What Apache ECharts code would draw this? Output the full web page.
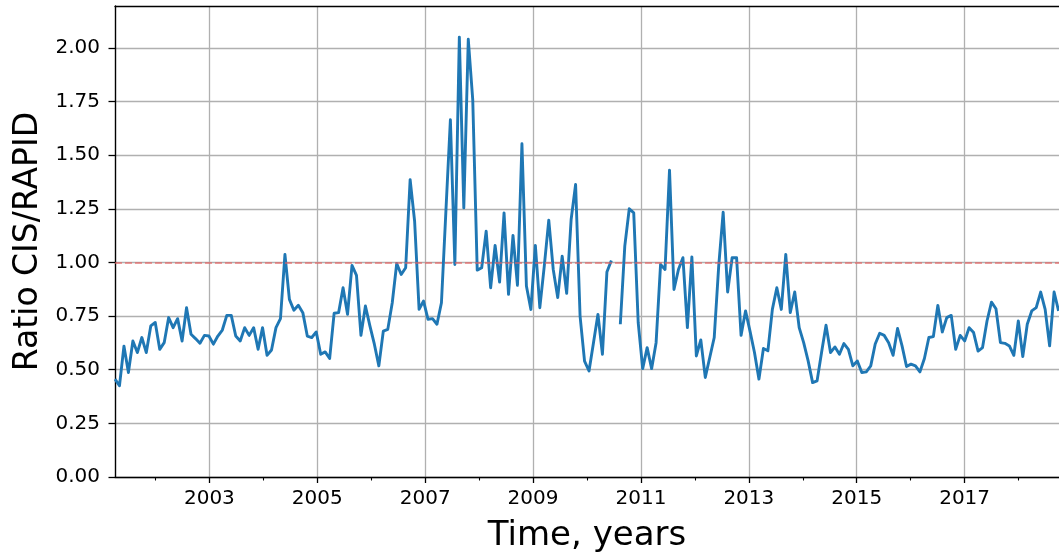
<!DOCTYPE html>
<html><head><meta charset="utf-8">
<script src="https://cdn.jsdelivr.net/npm/echarts@6/dist/echarts.min.js"></script>
<style>html,body{margin:0;padding:0;background:#fff;} #c{width:1059px;height:558px;}</style>
</head><body><div id="c"></div>
<script>
// ---- data ----
const startYear = 2001.25;      // time of first sample (decimal years)
const stepYears = 0.0829;       // sample spacing (about one month)
const ratioValues = [
  0.456,0.425,0.61,0.487,0.634,0.58,0.65,0.58,0.704,0.72,
  0.595,0.626,0.743,0.696,0.738,0.634,0.789,0.665,0.645,0.623,
  0.66,0.657,0.619,0.657,0.685,0.753,0.753,0.657,0.634,0.696,
  0.66,0.696,0.595,0.696,0.567,0.592,0.696,0.738,1.037,0.828,
  0.777,0.80,0.766,0.657,0.65,0.676,0.572,0.583,0.552,0.763,
  0.766,0.882,0.758,0.986,0.94,0.66,0.797,0.704,0.619,0.518,
  0.68,0.688,0.812,0.995,0.944,0.975,1.386,1.192,0.781,0.82,
  0.735,0.738,0.712,0.812,1.24,1.665,0.99,2.05,1.254,2.04,
  1.758,0.964,0.975,1.146,0.882,1.079,0.908,1.231,0.851,1.126,
  0.893,1.553,0.89,0.781,1.079,0.789,0.984,1.197,0.967,0.836,
  1.029,0.856,1.2,1.363,0.75,0.54,0.494,0.626,0.758,0.572,
  0.955,1.009,null,0.712,1.076,1.25,1.231,0.719,0.505,0.603,
  0.505,0.626,0.991,0.967,1.43,0.874,0.967,1.022,0.696,1.026,
  0.564,0.639,0.464,0.557,0.65,0.983,1.234,0.862,1.022,1.022,
  0.66,0.774,0.68,0.58,0.456,0.599,0.588,0.781,0.882,0.781,
  1.037,0.766,0.862,0.696,0.626,0.541,0.44,0.448,0.58,0.707,
  0.58,0.606,0.572,0.622,0.595,0.518,0.541,0.487,0.49,0.518,
  0.62,0.67,0.66,0.626,0.567,0.692,0.611,0.515,0.526,0.518,
  0.49,0.552,0.65,0.654,0.8,0.676,0.743,0.753,0.595,0.66,
  0.634,0.696,0.673,0.587,0.603,0.727,0.815,0.784,0.626,0.623,
  0.611,0.567,0.727,0.561,0.712,0.774,0.789,0.862,0.781,0.611,
  0.862,0.774
];
const majorYears = [2003,2005,2007,2009,2011,2013,2015,2017];
const minorYears = [2002,2004,2006,2008,2010,2012,2014,2016,2018];
const yTicks = [0,0.25,0.5,0.75,1.0,1.25,1.5,1.75,2.0];
const referenceLevel = 1.0;
const xMin = 2001.25, xMax = 2018.75, yMin = 0, yMax = 2.195;

// ---- build ----
const seriesData = ratioValues.map((v, i) => [startYear + i * stepYears, v]);
const FONT = 'DejaVu Sans';
const chart = echarts.init(document.getElementById('c'), null, {renderer: 'canvas'});
const axisCommon = {type: 'value', min: xMin, max: xMax};
chart.setOption({
  animation: false,
  backgroundColor: '#ffffff',
  grid: {left: 115, right: -1, top: 6, bottom: 80, containLabel: false},
  xAxis: [
    Object.assign({}, axisCommon, {
      position: 'bottom',
      axisLine: {show: true, onZero: false, lineStyle: {color: '#000', width: 1.4}},
      axisTick: {show: true, length: 6, customValues: majorYears, lineStyle: {color: '#000', width: 1.3}},
      axisLabel: {show: true, customValues: majorYears, margin: 12, fontFamily: FONT, fontSize: 20, color: '#000',
                  formatter: v => String(Math.round(v))},
      splitLine: {show: true, lineStyle: {color: '#b0b0b0', width: 1.3}},
      name: 'Time, years', nameLocation: 'middle', nameGap: 42,
      nameTextStyle: {fontFamily: FONT, fontSize: 34, color: '#000'}
    }),
    Object.assign({}, axisCommon, {
      position: 'bottom',
      axisLine: {show: false, onZero: false},
      axisTick: {show: true, length: 3.5, customValues: minorYears, lineStyle: {color: '#000', width: 1.1}},
      axisLabel: {show: false},
      splitLine: {show: false}
    }),
    Object.assign({}, axisCommon, {
      position: 'top',
      axisLine: {show: true, onZero: false, lineStyle: {color: '#000', width: 1.4}},
      axisTick: {show: false}, axisLabel: {show: false}, splitLine: {show: false}
    })
  ],
  yAxis: {
    type: 'value', min: yMin, max: yMax, interval: 0.25,
    axisLine: {show: true, onZero: false, lineStyle: {color: '#000', width: 1.4}},
    axisTick: {show: true, length: 6.5, customValues: yTicks, lineStyle: {color: '#000', width: 1.3}},
    axisLabel: {show: true, customValues: yTicks, margin: 15, fontFamily: FONT, fontSize: 20, color: '#000',
                formatter: v => (Math.abs(v / 0.25 - Math.round(v / 0.25)) < 1e-6 ? v.toFixed(2) : '')},
    splitLine: {show: true, lineStyle: {color: '#b0b0b0', width: 1.3}},
    name: 'Ratio CIS/RAPID', nameLocation: 'middle', nameGap: 70,
    nameTextStyle: {fontFamily: FONT, fontSize: 33, color: '#000'}
  },
  series: [
    {
      type: 'line', xAxisIndex: 0, yAxisIndex: 0, data: [], z: 2, silent: true,
      markLine: {
        silent: true, symbol: ['none', 'none'], label: {show: false},
        lineStyle: {color: 'rgba(232,96,96,0.6)', type: [7, 3], width: 2},
        data: [{yAxis: referenceLevel}]
      }
    },
    {
      type: 'line', xAxisIndex: 0, yAxisIndex: 0, data: seriesData, z: 3,
      showSymbol: false, symbol: 'none', connectNulls: false, clip: true,
      lineStyle: {color: '#1f77b4', width: 2.9, join: 'round', cap: 'butt'}
    }
  ]
});
</script>
</body></html>
